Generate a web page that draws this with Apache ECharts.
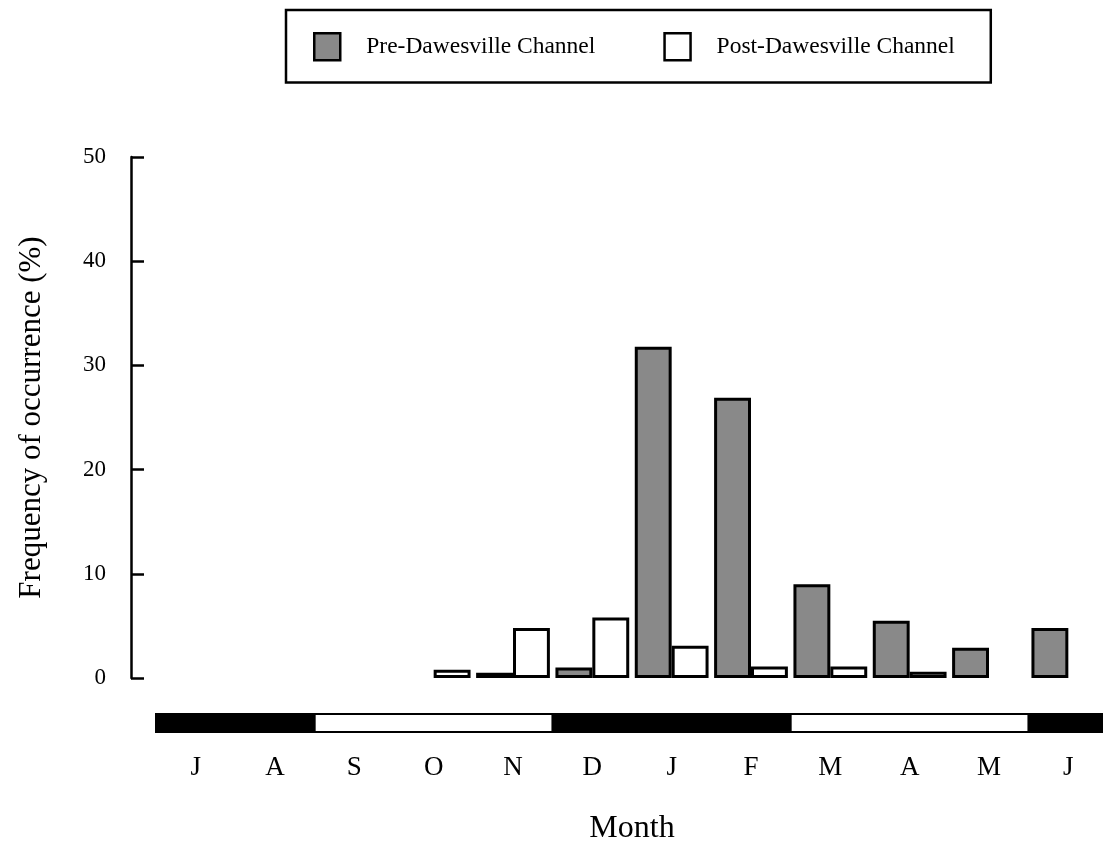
<!DOCTYPE html>
<html>
<head>
<meta charset="utf-8">
<script src="https://cdn.jsdelivr.net/npm/echarts@6/dist/echarts.min.js"></script>
<style>
html,body{margin:0;padding:0;background:#fff;}
#chart{width:1103px;height:852px;}
</style>
</head>
<body>
<div id="chart"></div>
<script>
// ---- data ----
const categories = ['Jul','Aug','Sep','Oct','Nov','Dec','Jan','Feb','Mar','Apr','May','Jun'];
const monthLabels = ['J','A','S','O','N','D','J','F','M','A','M','J'];
const preValues  = [null, null, null, null, 0.5, 1.0, 31.8, 26.9, 9.0, 5.5, 2.9, 4.8];
const postValues = [null, null, null, 0.8, 4.8, 5.8, 3.1, 1.1, 1.1, 0.6, null, null];
const yTicks = [0, 10, 20, 30, 40, 50];
// season strip below the axis (month index ranges, 1 = dark)
const seasonStart = [0, 2, 5, 8, 11];
const seasonEnd   = [2, 5, 8, 11, 12];
const seasonDark  = [1, 0, 1, 0, 1];
const seriesNames = ['Pre-Dawesville Channel', 'Post-Dawesville Channel'];

const FONT = '"Liberation Serif", "DejaVu Serif", serif';
const chart = echarts.init(document.getElementById('chart'), null, {renderer: 'canvas'});

const seasonData = seasonStart.map((s, i) => [s, seasonEnd[i], seasonDark[i]]);

const GRID_LEFT = 156, GRID_W = 952;

const option = {
  animation: false,
  backgroundColor: '#fff',
  legend: {
    left: 286, top: 10,
    orient: 'horizontal',
    padding: [22, 36, 21, 27],
    itemGap: 68,
    itemWidth: 26, itemHeight: 27,
    borderColor: '#000', borderWidth: 2.5,
    icon: 'rect',
    textStyle: {fontFamily: FONT, fontSize: 23.5, color: '#000', padding: [0, 0, 0, 21]},
    itemStyle: {borderWidth: 2.5, borderColor: '#000'},
    data: seriesNames
  },
  grid: [
    {left: GRID_LEFT, width: GRID_W, top: 157, bottom: 174, containLabel: false, outerBoundsMode: 'none'},
    {left: GRID_LEFT, width: GRID_W, top: 714, height: 18, containLabel: false, outerBoundsMode: 'none'},
    {left: GRID_LEFT, width: GRID_W, top: 714, height: 18, containLabel: false, outerBoundsMode: 'none'}
  ],
  xAxis: [
    {
      type: 'category', gridIndex: 0, data: categories,
      axisLine: {show: false}, axisTick: {show: false},
      axisLabel: {
        margin: 76, fontFamily: FONT, fontSize: 27, color: '#000',
        formatter: (v, i) => monthLabels[i]
      },
      name: 'Month', nameLocation: 'middle', nameGap: 135,
      nameTextStyle: {fontFamily: FONT, fontSize: 32, color: '#000'}
    },
    {
      type: 'value', gridIndex: 1, position: 'top', min: 0, max: 12, interval: 1,
      axisLine: {show: true, lineStyle: {color: '#000', width: 2}},
      axisTick: {show: true, inside: false, length: 5, lineStyle: {color: '#000', width: 2}},
      axisLabel: {show: false}, splitLine: {show: false}
    },
    {
      type: 'value', gridIndex: 2, position: 'top', min: 0, max: 12, interval: 6,
      axisLine: {show: false},
      axisTick: {show: true, inside: false, length: 12, lineStyle: {color: '#000', width: 2}},
      axisLabel: {show: false}, splitLine: {show: false}
    }
  ],
  yAxis: [
    {
      type: 'value', gridIndex: 0, min: 0, max: 50, interval: 10, offset: 25,
      axisLine: {show: true, lineStyle: {color: '#000', width: 2.5}},
      axisTick: {show: true, inside: true, length: 13, lineStyle: {color: '#000', width: 2.5}},
      axisLabel: {margin: 25, fontFamily: FONT, fontSize: 23, color: '#000',
        formatter: v => (yTicks.indexOf(v) >= 0 ? String(v) : '')},
      splitLine: {show: false},
      name: 'Frequency of occurrence (%)', nameLocation: 'middle', nameRotate: 90, nameGap: 84,
      nameTextStyle: {fontFamily: FONT, fontSize: 31, color: '#000'}
    },
    {type: 'value', gridIndex: 1, min: 0, max: 1, show: false},
    {type: 'value', gridIndex: 2, min: 0, max: 1, show: false}
  ],
  series: [
    {
      name: seriesNames[0], type: 'bar', xAxisIndex: 0, yAxisIndex: 0,
      data: preValues, barGap: '0%', barCategoryGap: '7%',
      itemStyle: {color: '#898989', borderColor: '#000', borderWidth: 3}
    },
    {
      name: seriesNames[1], type: 'bar', xAxisIndex: 0, yAxisIndex: 0,
      data: postValues, barGap: '0%', barCategoryGap: '7%',
      itemStyle: {color: '#ffffff', borderColor: '#000', borderWidth: 3}
    },
    {
      type: 'custom', xAxisIndex: 1, yAxisIndex: 1, silent: true,
      data: seasonData,
      renderItem: function (params, api) {
        const p0 = api.coord([api.value(0), 1]);
        const p1 = api.coord([api.value(1), 0]);
        return {
          type: 'rect',
          shape: {x: p0[0], y: p0[1], width: p1[0] - p0[0], height: p1[1] - p0[1]},
          style: {fill: api.value(2) ? '#000' : '#fff', stroke: '#000', lineWidth: 2}
        };
      }
    }
  ]
};
chart.setOption(option);
</script>
</body>
</html>
